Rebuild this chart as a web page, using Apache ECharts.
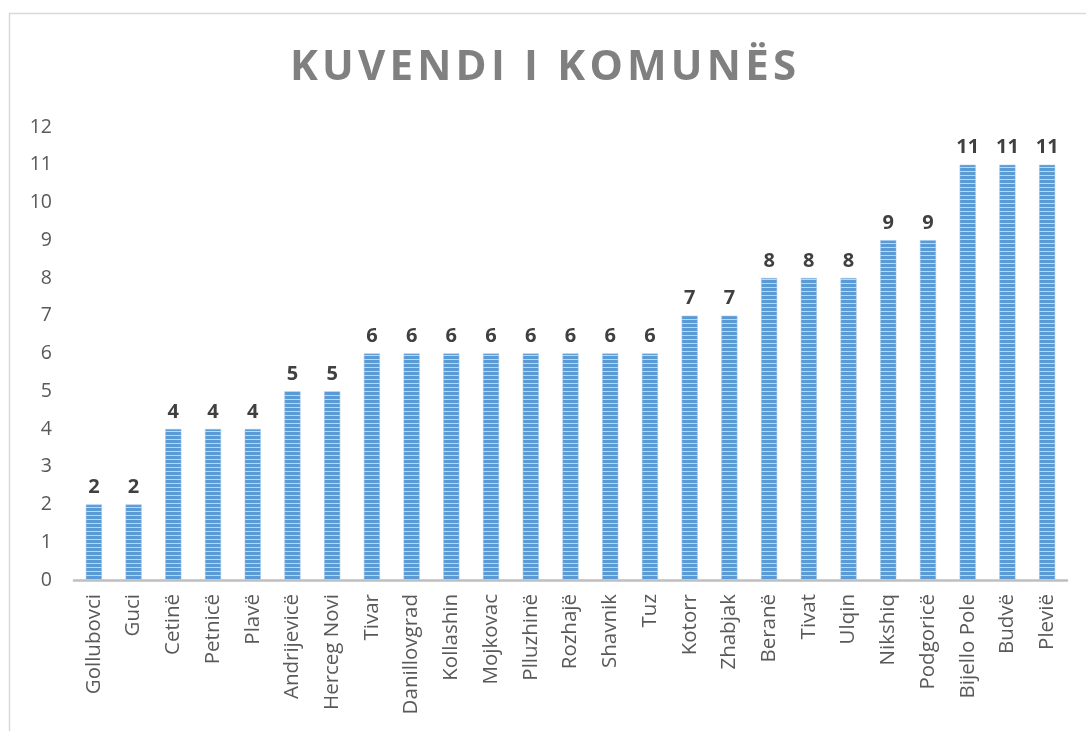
<!DOCTYPE html>
<html>
<head>
    <meta charset="utf-8">
    <title>Kuvendi i Komunës</title>
    <script src="https://cdn.jsdelivr.net/npm/echarts@6/dist/echarts.min.js"></script>
    <style>
        html, body { margin: 0; padding: 0; background: #ffffff; }
        #chart { width: 1086px; height: 731px; }
    </style>
</head>
<body>
<div id="chart"></div>
<script>
    var komunat = ['Gollubovci', 'Guci', 'Cetinë', 'Petnicë', 'Plavë', 'Andrijevicë', 'Herceg Novi',
        'Tivar', 'Danillovgrad', 'Kollashin', 'Mojkovac', 'Plluzhinë', 'Rozhajë', 'Shavnik', 'Tuz',
        'Kotorr', 'Zhabjak', 'Beranë', 'Tivat', 'Ulqin', 'Nikshiq', 'Podgoricë', 'Bijello Pole',
        'Budvë', 'Plevië'];
    var anetaret = [2, 2, 4, 4, 4, 5, 5, 6, 6, 6, 6, 6, 6, 6, 6, 7, 7, 8, 8, 8, 9, 9, 11, 11, 11];
    var yTicks = [0, 12, 1];

    // titulli me hapesira te holla mes shkronjave
    var titulli = 'KUVENDI I KOMUNËS'.split('').join('\u200A');

    // vijat horizontale te shtyllave
    var pat = document.createElement('canvas');
    pat.width = 4;
    pat.height = 4;
    var ctx = pat.getContext('2d');
    ctx.fillStyle = '#5b9bd5';
    ctx.fillRect(0, 0, 4, 4);
    ctx.fillStyle = '#bdd7ee';
    ctx.fillRect(0, 3, 4, 1);

    var chart = echarts.init(document.getElementById('chart'));
    chart.setOption({
        backgroundColor: '#ffffff',
        animation: false,
        graphic: [{
            type: 'rect',
            shape: {x: 9.5, y: 13.5, width: 1100, height: 750},
            style: {fill: 'none', stroke: '#d9d9d9', lineWidth: 1.5}
        }],
        title: {
            text: titulli,
            left: 'center',
            top: 42,
            textStyle: {
                fontFamily: 'Open Sans',
                fontSize: 42,
                fontWeight: 'bold',
                color: '#808080'
            }
        },
        grid: {left: 74, right: 19, top: 127, bottom: 151, containLabel: false},
        xAxis: {
            type: 'category',
            data: komunat,
            axisLine: {lineStyle: {color: '#bfbfbf', width: 2.5}},
            axisTick: {show: false},
            axisLabel: {
                rotate: 90,
                interval: 0,
                margin: 14,
                fontFamily: 'Open Sans',
                fontSize: 20.5,
                color: '#595959'
            }
        },
        yAxis: {
            type: 'value',
            min: yTicks[0],
            max: yTicks[1],
            interval: yTicks[2],
            axisLine: {show: false},
            axisTick: {show: false},
            splitLine: {show: false},
            axisLabel: {
                margin: 22,
                fontFamily: 'Open Sans',
                fontSize: 19.5,
                color: '#595959'
            }
        },
        series: [{
            type: 'bar',
            data: anetaret,
            barWidth: 16,
            itemStyle: {
                color: {image: pat, repeat: 'repeat'},
                borderColor: '#9dc3e6',
                borderWidth: 0.5
            },
            label: {
                show: true,
                position: 'top',
                distance: 7,
                fontFamily: 'Open Sans',
                fontSize: 20,
                fontWeight: 'bold',
                color: '#404040'
            }
        }]
    });
</script>
</body>
</html>
